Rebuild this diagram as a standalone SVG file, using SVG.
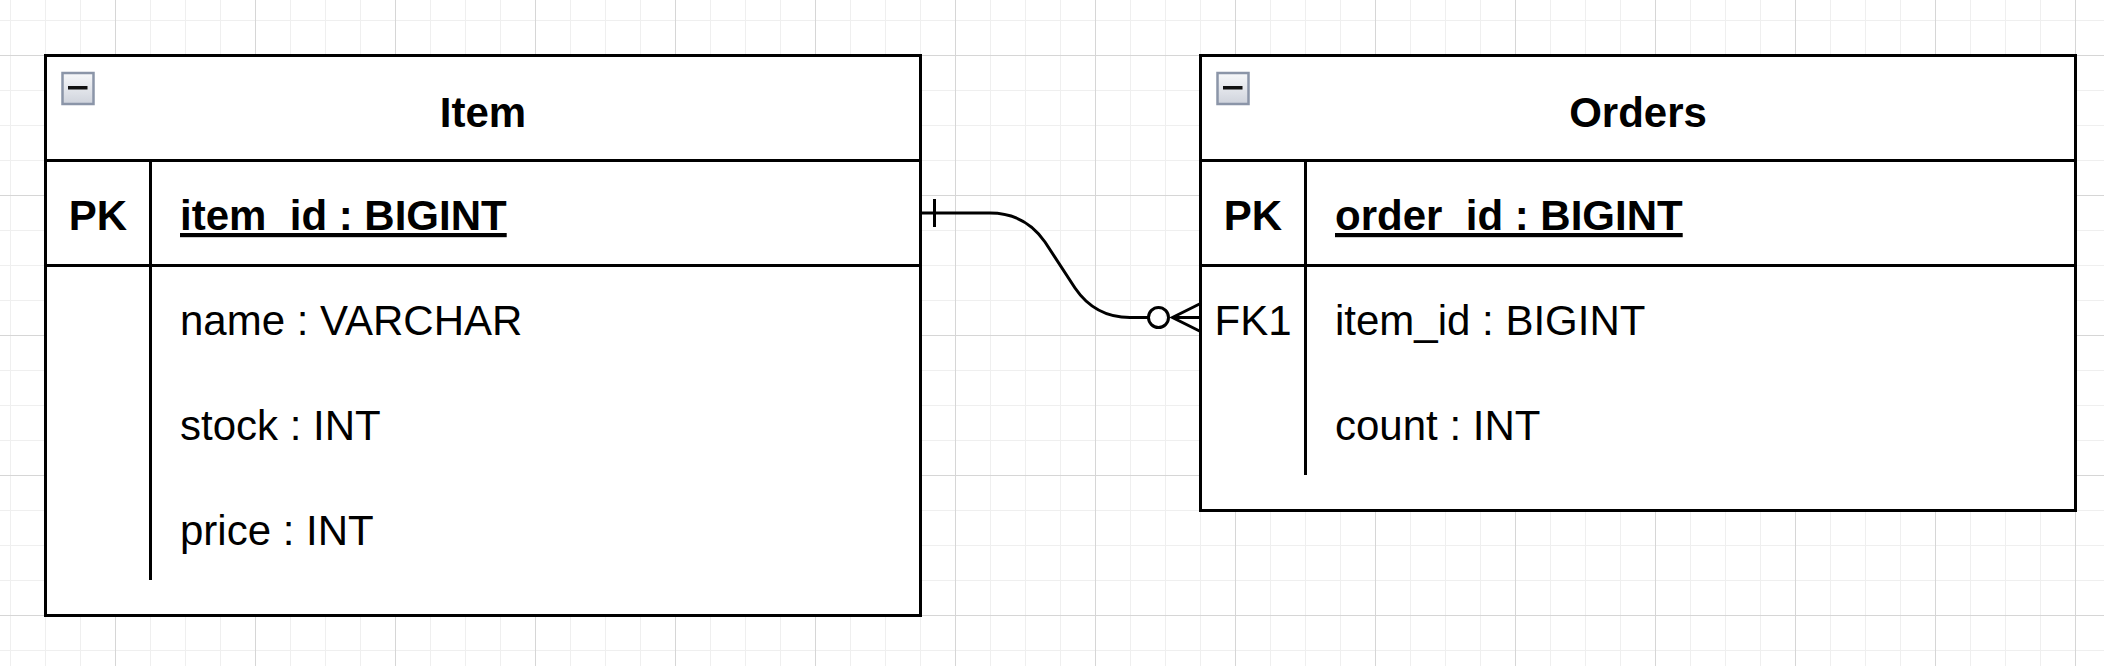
<svg xmlns="http://www.w3.org/2000/svg" width="2104" height="666" viewBox="0 0 2104 666">
  <style>
    .box { fill: #ffffff; stroke: #000000; stroke-width: 3; }
    .sep { stroke: #000000; stroke-width: 3; fill: none; }
    .title { font-family: "Liberation Sans", Arial, Helvetica, sans-serif; font-size: 42px; font-weight: bold; fill: #000; text-anchor: middle; }
    .key { font-family: "Liberation Sans", Arial, Helvetica, sans-serif; font-size: 42px; fill: #000; text-anchor: middle; }
    .keyb { font-weight: bold; }
    .field { font-family: "Liberation Sans", Arial, Helvetica, sans-serif; font-size: 42px; fill: #000; }
    .pk { font-weight: bold; text-decoration: underline; }
    .edge { fill: none; stroke: #000000; stroke-width: 3; }
    .icon { fill: url(#iconGrad); stroke: #8b95a8; stroke-width: 2.5; }
  </style>
  <defs>
    <pattern id="minor" patternUnits="userSpaceOnUse" x="10" y="20" width="35" height="35">
      <rect x="0" y="0" width="35" height="1" fill="#efefef"/>
      <rect x="0" y="0" width="1" height="35" fill="#efefef"/>
    </pattern>
    <pattern id="major" patternUnits="userSpaceOnUse" x="115" y="55" width="140" height="140">
      <rect x="0" y="0" width="140" height="1" fill="#d6d6d6"/>
      <rect x="0" y="0" width="1" height="140" fill="#d6d6d6"/>
    </pattern>
    <linearGradient id="iconGrad" x1="0" y1="0" x2="0" y2="1">
      <stop offset="0" stop-color="#f7f8fa"/>
      <stop offset="1" stop-color="#cfd3dc"/>
    </linearGradient>
  </defs>

  <rect x="0" y="0" width="2104" height="666" fill="#ffffff"/>
  <rect x="0" y="0" width="2104" height="666" fill="url(#minor)"/>
  <rect x="0" y="0" width="2104" height="666" fill="url(#major)"/>

  <g id="item">
    <rect class="box" x="45.5" y="55.5" width="875" height="560"/>
    <line class="sep" x1="45.5" y1="160.5" x2="920.5" y2="160.5"/>
    <line class="sep" x1="45.5" y1="265.5" x2="920.5" y2="265.5"/>
    <line class="sep" x1="150.5" y1="160.5" x2="150.5" y2="580"/>
    <rect class="icon" x="62.5" y="73" width="31" height="31"/>
    <rect x="68" y="86" width="19.5" height="3.5" fill="#111111"/>
    <text class="title" x="483" y="127">Item</text>
    <text class="key keyb" x="98" y="230">PK</text>
    <text class="field pk" x="180" y="230">item_id : BIGINT</text>
    <text class="field" x="180" y="335">name : VARCHAR</text>
    <text class="field" x="180" y="440">stock : INT</text>
    <text class="field" x="180" y="545">price : INT</text>
  </g>

  <g id="orders">
    <rect class="box" x="1200.5" y="55.5" width="875" height="455"/>
    <line class="sep" x1="1200.5" y1="160.5" x2="2075.5" y2="160.5"/>
    <line class="sep" x1="1200.5" y1="265.5" x2="2075.5" y2="265.5"/>
    <line class="sep" x1="1305.5" y1="160.5" x2="1305.5" y2="475"/>
    <rect class="icon" x="1217.5" y="73" width="31" height="31"/>
    <rect x="1223" y="86" width="19.5" height="3.5" fill="#111111"/>
    <text class="title" x="1638" y="127">Orders</text>
    <text class="key keyb" x="1253" y="230">PK</text>
    <text class="field pk" x="1335" y="230">order_id : BIGINT</text>
    <text class="key" x="1253" y="335">FK1</text>
    <text class="field" x="1335" y="335">item_id : BIGINT</text>
    <text class="field" x="1335" y="440">count : INT</text>
  </g>

  <g id="connectors">
    <path class="edge" d="M 920.5 213 L 990 213 Q 1025 213 1045 242 L 1075 288 Q 1095 317.5 1130 317.5 L 1148 317.5"/>
    <line class="edge" x1="934.5" y1="199" x2="934.5" y2="227"/>
    <circle class="edge" cx="1158.5" cy="317.5" r="10"/>
    <path class="edge" d="M 1200.5 303.5 L 1172.5 317.5 L 1200.5 331.5 M 1172.5 317.5 L 1200.5 317.5"/>
  </g>
</svg>
